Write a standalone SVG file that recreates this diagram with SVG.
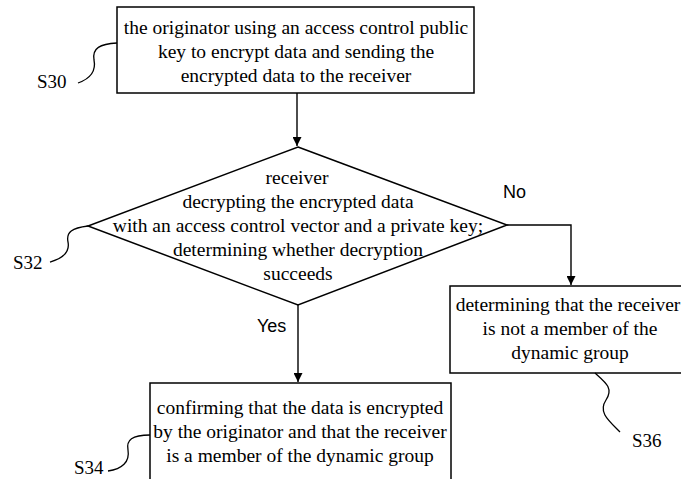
<svg xmlns="http://www.w3.org/2000/svg" width="681" height="479" viewBox="0 0 681 479">
<style>
.box{fill:#fff;stroke:#000;stroke-width:1.5}
.t{font-family:"Liberation Serif","Times New Roman",serif;font-size:19.5px;fill:#000;text-anchor:middle}
.lbl{font-family:"Liberation Serif","Times New Roman",serif;font-size:19px;fill:#000}
.yn{font-family:"Liberation Sans",Arial,sans-serif;font-size:18px;fill:#000}
.ln{fill:none;stroke:#000;stroke-width:1.4}
.lead{fill:none;stroke:#000;stroke-width:1.3}
</style>
<defs>
<marker id="ah" viewBox="0 0 10 10" refX="10" refY="5" markerWidth="9" markerHeight="9" markerUnits="userSpaceOnUse" orient="auto">
<path d="M0,0 L10,5 L0,10 Z" fill="#000"/>
</marker>
</defs>
<rect width="681" height="479" fill="#fff"/>
<g id="connectors">
<path class="ln" d="M297,93 L297,146" marker-end="url(#ah)"/>
<path class="ln" d="M298,305 L298,382" marker-end="url(#ah)"/>
<path class="ln" d="M507,225 L571,225 L571,285" marker-end="url(#ah)"/>
<text class="yn" x="503" y="198">No</text>
<text class="yn" x="257" y="332">Yes</text>
</g>
<g id="S30">
<rect class="box" x="117" y="7" width="357" height="86"/>
<text class="t" x="296" y="34">the originator using an access control public</text>
<text class="t" x="296" y="58">key to encrypt data and sending the</text>
<text class="t" x="296" y="82">encrypted data to the receiver</text>
<path class="lead" d="M117,43 C100,44 92,48 94,60 C96,70 92,78 78,83"/>
<text class="lbl" x="37" y="88">S30</text>
</g>
<g id="S32">
<polygon class="box" points="298,147 507,225 298,305 88,226"/>
<text class="t" x="297" y="184">receiver</text>
<text class="t" x="298" y="208">decrypting the encrypted data</text>
<text class="t" x="298" y="232">with an access control vector and a private key;</text>
<text class="t" x="298" y="256">determining whether decryption</text>
<text class="t" x="298" y="280">succeeds</text>
<path class="lead" d="M88,226 C72,228 66,232 68,242 C70,252 64,258 50,262"/>
<text class="lbl" x="13" y="269">S32</text>
</g>
<g id="S34">
<rect class="box" x="150" y="383" width="301" height="110"/>
<text class="t" x="300" y="414">confirming that the data is encrypted</text>
<text class="t" x="300" y="438">by the originator and that the receiver</text>
<text class="t" x="300" y="462">is a member of the dynamic group</text>
<path class="lead" d="M150,435 C132,435 126,440 128,450 C130,462 122,469 108,471"/>
<text class="lbl" x="74" y="474">S34</text>
</g>
<g id="S36">
<rect class="box" x="450" y="286" width="240" height="87"/>
<text class="t" x="568" y="311">determining that the receiver</text>
<text class="t" x="570" y="335">is not a member of the</text>
<text class="t" x="570" y="359">dynamic group</text>
<path class="lead" d="M595,373 C605,382 614,388 606,400 C598,412 608,420 620,432"/>
<text class="lbl" x="632" y="447">S36</text>
</g>
</svg>
